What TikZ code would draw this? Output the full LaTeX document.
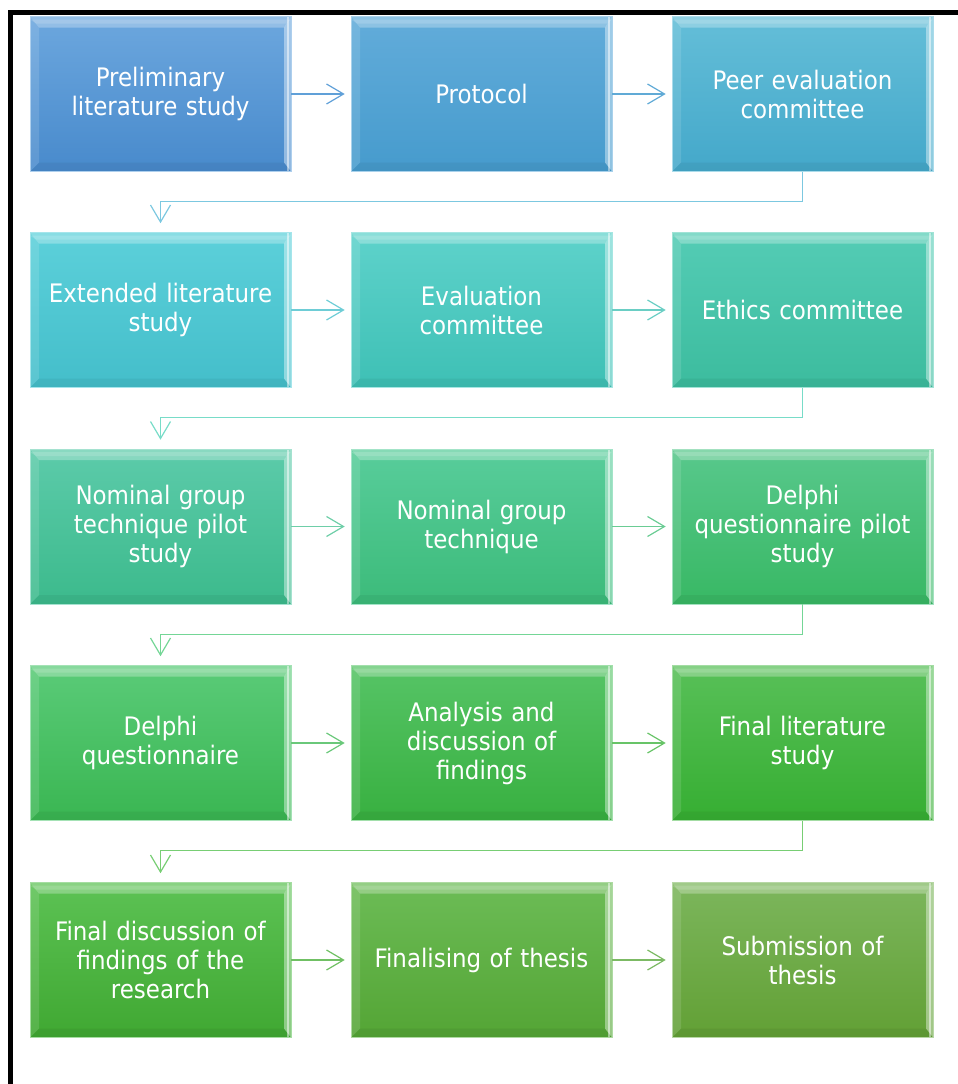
\documentclass[tikz,border=0pt]{standalone}
\usepackage{fontspec}
\setmainfont{DejaVu Sans Condensed}
\usetikzlibrary{arrows.meta}

% box fills: top and bottom of each gradient
\definecolor{t1}{HTML}{6CA7DE}\definecolor{u1}{HTML}{488ACC}
\definecolor{t2}{HTML}{62ACDA}\definecolor{u2}{HTML}{469BCD}
\definecolor{t3}{HTML}{64BED8}\definecolor{u3}{HTML}{44A8CA}
\definecolor{t4}{HTML}{5CD0DA}\definecolor{u4}{HTML}{44BECA}
\definecolor{t5}{HTML}{5ED2CB}\definecolor{u5}{HTML}{3EC0B5}
\definecolor{t6}{HTML}{54CCB5}\definecolor{u6}{HTML}{3CBC9E}
\definecolor{t7}{HTML}{5CCBAA}\definecolor{u7}{HTML}{3CBA8C}
\definecolor{t8}{HTML}{58CD9B}\definecolor{u8}{HTML}{3CBB7A}
\definecolor{t9}{HTML}{58C88C}\definecolor{u9}{HTML}{38B864}
\definecolor{t10}{HTML}{5ACB78}\definecolor{u10}{HTML}{3AB652}
\definecolor{t11}{HTML}{56C466}\definecolor{u11}{HTML}{38B040}
\definecolor{t12}{HTML}{58C058}\definecolor{u12}{HTML}{36AE32}
\definecolor{t13}{HTML}{5CC254}\definecolor{u13}{HTML}{40A832}
\definecolor{t14}{HTML}{6CBC56}\definecolor{u14}{HTML}{54A535}
\definecolor{t15}{HTML}{7CB65C}\definecolor{u15}{HTML}{62A035}
% connector colours
\definecolor{a1}{HTML}{60A0D8}\definecolor{a2}{HTML}{60AAD6}
\definecolor{a3}{HTML}{6ECDD6}\definecolor{a4}{HTML}{6ACEC4}
\definecolor{a5}{HTML}{6ECEA8}\definecolor{a6}{HTML}{6ACC94}
\definecolor{a7}{HTML}{6AC87A}\definecolor{a8}{HTML}{68C468}
\definecolor{a9}{HTML}{70C064}\definecolor{a10}{HTML}{7CBA64}
\definecolor{d1}{HTML}{7CC8E0}\definecolor{d2}{HTML}{78DCC8}
\definecolor{d3}{HTML}{74D696}\definecolor{d4}{HTML}{78CE74}

\tikzset{
  x=1pt, y=1pt,
  stepbox/.style={
    minimum width=261pt, minimum height=155pt, inner sep=0pt,
    text width=250pt, align=center, text=white,
    font=\fontsize{25.5}{29}\selectfont,
    top color=t#1, bottom color=u#1, draw=t#1!55!white, line width=0.6pt,
    path picture={
      \coordinate (nw) at (path picture bounding box.north west);
      \coordinate (ne) at (path picture bounding box.north east);
      \coordinate (sw) at (path picture bounding box.south west);
      \coordinate (se) at (path picture bounding box.south east);
      % top bevel
      \fill[white,opacity=.28] (nw) -- (ne) -- ([shift={(-7pt,-11pt)}]ne) -- ([shift={(9pt,-11pt)}]nw) -- cycle;
      \fill[white,opacity=.15] ([yshift=-3pt]nw) -- ([yshift=-3pt]ne) -- ([shift={(-5pt,-7pt)}]ne) -- ([shift={(6pt,-7pt)}]nw) -- cycle;
      % left bevel
      \fill[white,opacity=.12] (nw) -- ([shift={(9pt,-11pt)}]nw) -- ([shift={(9pt,9pt)}]sw) -- (sw) -- cycle;
      % right bevel
      \fill[white,opacity=.4] (ne) -- ([shift={(-7pt,-11pt)}]ne) -- ([shift={(-7pt,9pt)}]se) -- (se) -- cycle;
      \fill[white,opacity=.5] ([xshift=-4pt]ne) rectangle ([xshift=-2pt]se);
      % bottom bevel
      \fill[black,opacity=.05] (sw) -- ([shift={(9pt,9pt)}]sw) -- ([shift={(-7pt,9pt)}]se) -- (se) -- cycle;
    }
  },
  conn/.style={draw=#1, line width=1.2pt,
    -{Straight Barb[length=17pt,width=20pt,line width=1.2pt]}},
  frameline/.style={line width=5pt, black}
}

\begin{document}
\begin{tikzpicture}
\useasboundingbox (0,0) rectangle (958,-1084);

% page frame (top and left edges)
\draw[frameline] (8,-12.5) -- (958,-12.5);
\draw[frameline] (10.5,-10) -- (10.5,-1084);

% row 1
\node[stepbox=1] (b1) at (160.5,-94) {Preliminary\\literature study};
\node[stepbox=2] (b2) at (481.5,-94) {Protocol};
\node[stepbox=3] (b3) at (802.5,-94) {Peer evaluation\\committee};
% row 2
\node[stepbox=4] (b4) at (160.5,-310) {Extended literature\\study};
\node[stepbox=5] (b5) at (481.5,-310) {Evaluation\\committee};
\node[stepbox=6] (b6) at (802.5,-310) {Ethics committee};
% row 3
\node[stepbox=7] (b7) at (160.5,-526.5) {Nominal group\\technique pilot\\study};
\node[stepbox=8] (b8) at (481.5,-526.5) {Nominal group\\technique};
\node[stepbox=9] (b9) at (802.5,-526.5) {Delphi\\questionnaire pilot\\study};
% row 4
\node[stepbox=10] (b10) at (160.5,-743) {Delphi\\questionnaire};
\node[stepbox=11] (b11) at (481.5,-743) {Analysis and\\discussion of\\findings};
\node[stepbox=12] (b12) at (802.5,-743) {Final literature\\study};
% row 5
\node[stepbox=13] (b13) at (160.5,-960) {Final discussion of\\findings of the\\research};
\node[stepbox=14] (b14) at (481.5,-960) {Finalising of thesis};
\node[stepbox=15] (b15) at (802.5,-960) {Submission of\\thesis};

% connectors within rows
\draw[conn=a1, shorten >=6pt] (b1.east) -- (b2.west);
\draw[conn=a2, shorten >=6pt] (b2.east) -- (b3.west);
\draw[conn=a3, shorten >=6pt] (b4.east) -- (b5.west);
\draw[conn=a4, shorten >=6pt] (b5.east) -- (b6.west);
\draw[conn=a5, shorten >=6pt] (b7.east) -- (b8.west);
\draw[conn=a6, shorten >=6pt] (b8.east) -- (b9.west);
\draw[conn=a7, shorten >=6pt] (b10.east) -- (b11.west);
\draw[conn=a8, shorten >=6pt] (b11.east) -- (b12.west);
\draw[conn=a9, shorten >=6pt] (b13.east) -- (b14.west);
\draw[conn=a10, shorten >=6pt] (b14.east) -- (b15.west);

% connectors between rows
\draw[conn=d1, shorten >=9pt] (b3.south) -- ++(0,-30) -| (b4.north);
\draw[conn=d2, shorten >=9pt] (b6.south) -- ++(0,-30) -| (b7.north);
\draw[conn=d3, shorten >=9pt] (b9.south) -- ++(0,-30) -| (b10.north);
\draw[conn=d4, shorten >=9pt] (b12.south) -- ++(0,-30) -| (b13.north);
\end{tikzpicture}
\end{document}
